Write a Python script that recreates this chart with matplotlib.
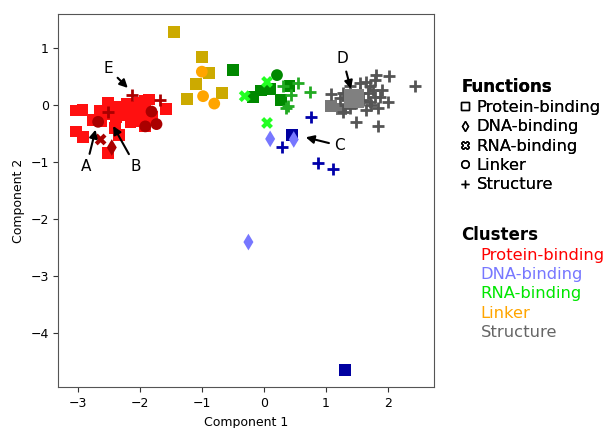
import matplotlib
matplotlib.use("Agg")
import matplotlib.pyplot as plt
from matplotlib.lines import Line2D

# --- cluster: Protein-binding (red) ---
red_sq_x = [-3.02, -2.92, -2.64, -2.51, -2.42, -2.35, -2.28, -2.2, -2.1, -2.0, -1.92, -1.85, -1.58,
            -2.75, -2.62, -2.45, -2.38, -2.25, -2.12, -2.05, -1.95, -3.02, -2.91, -2.4, -2.33,
            -2.51, -1.92, -2.15, -2.0, -1.8]
red_sq_y = [-0.09, -0.08, -0.09, 0.04, -0.05, -0.03, -0.02, 0.02, -0.02, 0.05, 0.07, 0.1, -0.07,
            -0.26, -0.28, -0.15, -0.2, -0.17, -0.12, -0.2, -0.1, -0.46, -0.55, -0.4, -0.52,
            -0.84, -0.37, -0.3, -0.28, -0.2]
red_ci_x = [-1.81, -1.91, -1.73, -2.67]
red_ci_y = [-0.11, -0.37, -0.33, -0.29]
red_pl_x = [-2.12, -1.67, -2.51]
red_pl_y = [0.18, 0.1, -0.11]
red_rna_x = [-2.63]
red_rna_y = [-0.6]
red_dna_x = [-2.45]
red_dna_y = [-0.74]

# --- cluster: Linker (yellow / orange) ---
yel_sq_x = [-1.45, -1.0, -0.88, -1.1, -0.67, -1.24]
yel_sq_y = [1.29, 0.85, 0.57, 0.37, 0.22, 0.11]
yel_ci_x = [-1.0, -0.98, -0.8]
yel_ci_y = [0.59, 0.16, 0.03]

# --- cluster: RNA-binding (green) ---
grn_sq_x = [-0.5, -0.18, -0.05, 0.1, 0.41, 0.27]
grn_sq_y = [0.62, 0.14, 0.26, 0.28, 0.34, 0.09]
grn_ci_x = [0.21]
grn_ci_y = [0.53]
grn_rna_x = [0.05, -0.31, 0.05]
grn_rna_y = [0.41, 0.16, -0.31]
grn_pl_x = [0.31, 0.55, 0.74, 0.43, 0.39, 0.36]
grn_pl_y = [0.33, 0.39, 0.23, 0.18, -0.02, -0.04]

# --- cluster: DNA-binding (blue) ---
blu_pl_x = [0.75, 0.29, 0.87, 1.11]
blu_pl_y = [-0.2, -0.74, -1.02, -1.12]
blu_sq_x = [0.45, 1.30]
blu_sq_y = [-0.52, -4.64]
blu_dna_x = [0.1, 0.48, -0.25]
blu_dna_y = [-0.59, -0.6, -2.40]

# --- cluster: Structure (gray) ---
gry_pl_x = [1.08, 1.81, 2.02, 2.43, 2.0, 1.83, 1.48, 1.83, 1.28, 1.33, 1.38, 1.55, 1.65, 1.71,
            1.76, 1.79, 1.6, 1.49, 1.38, 1.28, 1.65, 1.71, 1.87, 1.9, 1.79, 1.55, 1.44, 1.68,
            1.73, 1.3, 1.22]
gry_pl_y = [0.2, 0.53, 0.51, 0.34, 0.06, -0.05, -0.3, -0.36, 0.21, 0.09, 0.33, 0.39, 0.41, 0.33,
            0.27, 0.15, 0.09, 0.04, -0.05, -0.11, -0.08, 0.06, 0.15, 0.27, 0.44, 0.21, 0.15, 0.21,
            0.0, 0.0, 0.12]
gry_sq_x = [1.08, 1.25]
gry_sq_y = [-0.01, -0.07]
gry_big_x = [1.45]
gry_big_y = [0.12]

func_labels = ["Protein-binding", "DNA-binding", "RNA-binding", "Linker", "Structure"]
func_markers = ["s", "d", "X", "o", "+"]
cluster_labels = ["Protein-binding", "DNA-binding", "RNA-binding", "Linker", "Structure"]
cluster_colors = ["#ff0000", "#7777ff", "#00e600", "#ffa500", "#666666"]

fig = plt.figure(figsize=(6.08, 4.28), dpi=100)
ax = fig.add_axes([0.096, 0.095, 0.618, 0.872])

s = 72
layers = [
    (red_sq_x, red_sq_y, "s", "#ff1010", s),
    (red_ci_x, red_ci_y, "o", "#aa0000", s),
    (red_pl_x, red_pl_y, "+", "#aa0000", s),
    (red_rna_x, red_rna_y, "X", "#aa0000", s),
    (red_dna_x, red_dna_y, "d", "#aa0000", s),
    (yel_sq_x, yel_sq_y, "s", "#ccaa00", s),
    (yel_ci_x, yel_ci_y, "o", "#ffa500", s),
    (grn_sq_x, grn_sq_y, "s", "#008800", s),
    (grn_ci_x, grn_ci_y, "o", "#008800", s),
    (grn_rna_x, grn_rna_y, "X", "#22ff22", s),
    (grn_pl_x, grn_pl_y, "+", "#22aa22", s),
    (blu_pl_x, blu_pl_y, "+", "#0000aa", s),
    (blu_sq_x, blu_sq_y, "s", "#0000a0", s),
    (blu_dna_x, blu_dna_y, "d", "#7777ff", s),
    (gry_sq_x, gry_sq_y, "s", "#777777", s),
    (gry_pl_x, gry_pl_y, "+", "#555555", s),
    (gry_big_x, gry_big_y, "s", "#808080", 190),
]
for xs, ys, m, c, size in layers:
    if m == "+":
        ax.scatter(xs, ys, marker=m, color=c, s=size, linewidths=2)
    else:
        ax.scatter(xs, ys, marker=m, color=c, s=size, edgecolors="none")

ax.set_xlim(-3.31, 2.74)
ax.set_ylim(-4.95, 1.60)
ax.set_xticks([-3, -2, -1, 0, 1, 2])
ax.set_yticks([-4, -3, -2, -1, 0, 1])
ax.set_xlabel("Component 1", fontsize=9)
ax.set_ylabel("Component 2", fontsize=9)
ax.tick_params(labelsize=9, color="#333333")
for sp in ax.spines.values():
    sp.set_color("#555555")

arrow = dict(arrowstyle="-|>", color="black", lw=1.5, mutation_scale=12)
ax.annotate("A", xy=(-2.70, -0.38), xytext=(-2.86, -1.08), fontsize=11,
            ha="center", va="center", arrowprops=arrow)
ax.annotate("B", xy=(-2.45, -0.32), xytext=(-2.06, -1.08), fontsize=11,
            ha="center", va="center", arrowprops=arrow)
ax.annotate("E", xy=(-2.16, 0.27), xytext=(-2.51, 0.65), fontsize=11,
            ha="center", va="center", arrowprops=arrow)
ax.annotate("C", xy=(0.63, -0.55), xytext=(1.22, -0.71), fontsize=11,
            ha="center", va="center", arrowprops=arrow)
ax.annotate("D", xy=(1.41, 0.24), xytext=(1.27, 0.82), fontsize=11,
            ha="center", va="center", arrowprops=arrow)

# legends
func_handles = [Line2D([], [], marker=m, linestyle="none", markerfacecolor="none",
                       markeredgecolor="black", markersize=5.5, markeredgewidth=1)
                for m in func_markers]
leg1 = fig.legend(func_handles, func_labels, loc="upper left", bbox_to_anchor=(0.745, 0.837),
                  frameon=False, title="Functions", alignment="left", fontsize=11.8,
                  handlelength=0.5, handletextpad=0.45, labelspacing=0.26, borderpad=0,
                  title_fontproperties={"weight": "bold", "size": 12})

clu_handles = [Line2D([], [], linestyle="none") for _ in cluster_labels]
leg2 = fig.legend(clu_handles, cluster_labels, loc="upper left", bbox_to_anchor=(0.745, 0.492),
                  frameon=False, title="Clusters", alignment="left", fontsize=11.8,
                  handlelength=0.7, handletextpad=0.5, labelspacing=0.26, borderpad=0,
                  labelcolor=cluster_colors,
                  title_fontproperties={"weight": "bold", "size": 12})
fig.add_artist(leg1)

fig.savefig("out.png", dpi=100)
